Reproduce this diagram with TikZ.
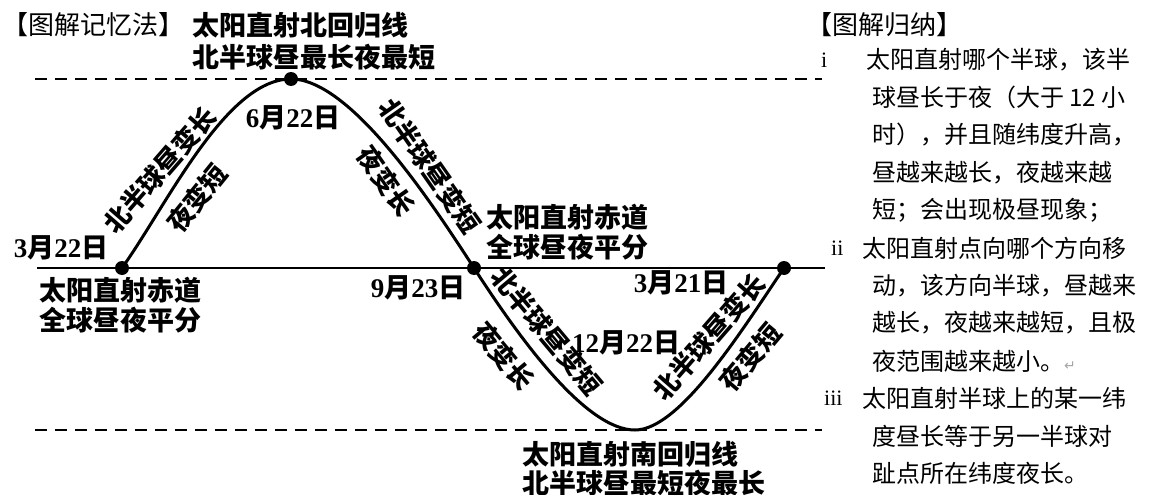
\documentclass[tikz,border=0pt]{standalone}
\usepackage{fontspec}
\newfontfamily\cjk{Noto Sans CJK SC}
\newfontfamily\tms{Liberation Serif}
\newfontfamily\symf{DejaVu Sans}
\newcommand\dg[1]{{\tms\bfseries #1}}
\begin{document}
\begin{tikzpicture}[x=1pt,y=-1pt,
  lbl/.style={inner sep=0pt, font=\cjk\bfseries\fontsize{27}{27}\selectfont},
  rlbl/.style={inner sep=0pt, font=\cjk\bfseries\fontsize{26}{26}\selectfont},
  lblw/.style={lbl, anchor=west},
  hdr/.style={inner sep=0pt, anchor=west, font=\cjk\fontsize{26}{26}\selectfont},
  txt/.style={inner sep=0pt, anchor=west, font=\cjk\fontsize{24}{24}\selectfont},
  numlab/.style={inner sep=0pt, anchor=west, font=\tms\fontsize{22}{22}\selectfont},
  sundot/.style={circle, fill=black, inner sep=0pt, minimum size=14pt},
  guide/.style={line width=2pt, dash pattern=on 12pt off 8pt},
  curveline/.style={line width=3pt},
  eqline/.style={line width=2.5pt}]
\useasboundingbox (0,0) rectangle (1151,495);

% guide lines
\coordinate (tl) at (35,79);
\coordinate (tr) at (822,79);
\coordinate (bl) at (35,430);
\coordinate (br) at (822,430);
\coordinate (el) at (37,268);
\coordinate (er) at (825,268);
\draw[guide] (tl) -- (tr);
\draw[guide] (bl) -- (br);
\draw[eqline] (el) -- (er);

% points
\coordinate (a) at (122,268);
\coordinate (b) at (291,79);
\coordinate (c) at (474,268);
\coordinate (d) at (635,430);
\coordinate (e) at (784,268);

\draw[curveline] (a) .. controls +(45,-63) and +(-65,0) .. (b)
  .. controls +(59,0) and +(-44,-68) .. (c)
  .. controls +(44,68) and +(-50,0) .. (d)
  .. controls +(45,0) and +(-42,62) .. (e);

\node[sundot] (pa) at (a) {};
\node[sundot] (pb) at (b) {};
\node[sundot] (pc) at (c) {};
\node[sundot] (pe) at (e) {};

% headers
\node[hdr] (h1) at (2,25) {【图解记忆法】};
\node[hdr] (h2) at (806,25) {【图解归纳】};

% top labels
\node[lblw] (t1) at (192,25) {太阳直射北回归线};
\node[lblw] (t2) at (192,57) {北半球昼最长夜最短};

% dates
\node[lbl] (d1) at (293,118) {\dg{6}月\dg{22}日};
\node[lbl] (d2) at (61,248) {\dg{3}月\dg{22}日};
\node[lbl] (d3) at (418,288) {\dg{9}月\dg{23}日};
\node[lbl] (d4) at (681,283) {\dg{3}月\dg{21}日};
\node[lbl] (d5) at (626,343) {\dg{12}月\dg{22}日};

% equator labels
\node[lblw] (q1) at (39,290) {太阳直射赤道};
\node[lblw] (q2) at (39,320) {全球昼夜平分};
\node[lblw] (q3) at (486,217) {太阳直射赤道};
\node[lblw] (q4) at (486,247) {全球昼夜平分};

% bottom labels
\node[lblw] (s1) at (522,454) {太阳直射南回归线};
\node[lblw] (s2) at (522,483) {北半球昼最短夜最长};

% rotated labels
\node[rlbl, rotate=49] (r1) at (160,170) {北半球昼变长};
\node[rlbl, rotate=51] (r2) at (197,198) {夜变短};
\node[rlbl, rotate=-55] (r3) at (430,166) {北半球昼变短};
\node[rlbl, rotate=-55] (r4) at (386,181) {夜变长};
\node[rlbl, rotate=-50] (r5) at (547,331) {北半球昼变短};
\node[rlbl, rotate=-50] (r6) at (504,356) {夜变长};
\node[rlbl, rotate=49] (r7) at (709,337) {北半球昼变长};
\node[rlbl, rotate=50] (r8) at (750,357) {夜变短};

% right column
\node[numlab] (n1) at (821,60) {i};
\node[txt] (x1) at (866,60) {太阳直射哪个半球，该半};
\node[txt] (x2) at (872,97.6) {球昼长于夜（大于 12 小};
\node[txt] (x3) at (872,135) {时），并且随纬度升高，};
\node[txt] (x4) at (872,173) {昼越来越长，夜越来越};
\node[txt] (x5) at (872,210) {短；会出现极昼现象；};
\node[numlab] (n2) at (831,248) {ii};
\node[txt] (x6) at (862,248) {太阳直射点向哪个方向移};
\node[txt] (x7) at (872,286) {动，该方向半球，昼越来};
\node[txt] (x8) at (872,323) {越长，夜越来越短，且极};
\node[txt] (x9) at (872,361) {夜范围越来越小。{\symf\fontsize{14}{14}\selectfont\color{black!35}↵}};
\node[numlab] (n3) at (824,398) {iii};
\node[txt] (x10) at (862,398) {太阳直射半球上的某一纬};
\node[txt] (x11) at (872,436) {度昼长等于另一半球对};
\node[txt] (x12) at (872,473) {趾点所在纬度夜长。};
\end{tikzpicture}
\end{document}
